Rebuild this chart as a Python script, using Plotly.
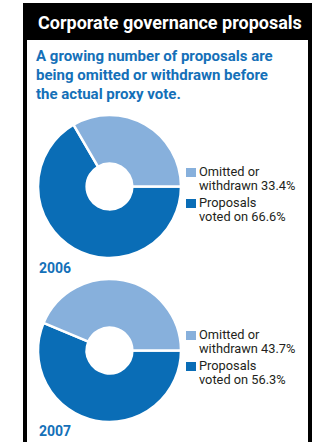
import plotly.graph_objects as go

# Share of corporate governance proposals, by year
years = ["2006", "2007"]
categories = ["Omitted or withdrawn", "Proposals voted on"]
category_lines = [["Omitted or", "withdrawn"], ["Proposals", "voted on"]]
share_2006 = [33.4, 66.6]
share_2007 = [43.7, 56.3]
shares = [share_2006, share_2007]

title_text = "Corporate governance proposals"
subtitle_lines = [
    "A growing number of proposals are",
    "being omitted or withdrawn before",
    "the actual proxy vote.",
]

W, H = 320, 442
FONT = "Roboto"
LIGHT = "#87b0dc"
DARK = "#0a6db6"
BLUE_TEXT = "#1470b8"
INK = "#231f20"
slice_colors = [LIGHT, DARK]


def px(x):
    return x / W


def py(y):
    return 1 - y / H


fig = go.Figure()

# donut for each year; the "voted" slice runs clockwise from 3 o'clock,
# leaving the "omitted" slice in the upper part of the ring
pie_tops = [115, 279]
pie_left, pie_size = 38, 143
for yr, vals, top in zip(years, shares, pie_tops):
    fig.add_trace(go.Pie(
        labels=categories[::-1],
        values=vals[::-1],
        hole=0.32,
        sort=False,
        direction="clockwise",
        rotation=90,
        textinfo="none",
        hoverinfo="label+percent",
        marker=dict(colors=slice_colors[::-1], line=dict(color="white", width=2.5)),
        domain=dict(x=[px(pie_left), px(pie_left + pie_size)],
                    y=[py(top + pie_size), py(top)]),
        showlegend=False,
        name=yr,
    ))

shapes = [
    # black frame and title bar
    dict(type="rect", xref="paper", yref="paper", layer="below",
         x0=px(23), x1=px(312), y0=py(445), y1=py(3),
         fillcolor="black", line=dict(width=0)),
    dict(type="rect", xref="paper", yref="paper", layer="below",
         x0=px(27), x1=px(308), y0=py(445), y1=py(40),
         fillcolor="white", line=dict(width=0)),
]

annotations = [
    dict(text="<b>" + title_text + "</b>", x=px(169.5), y=py(22),
         xref="paper", yref="paper", xanchor="center", yanchor="middle",
         showarrow=False, font=dict(family=FONT, size=18, color="white")),
]
for i, line in enumerate(subtitle_lines):
    annotations.append(dict(
        text="<b>" + line + "</b>", x=px(34), y=py(56.5 + i * 18.5),
        xref="paper", yref="paper", xanchor="left", yanchor="middle",
        showarrow=False, font=dict(family=FONT, size=15, color=BLUE_TEXT)))

# legend blocks and year labels beside each donut
legend_offsets = [0, 163]
year_label_y = [268, 431]
for yr, vals, off, yl in zip(years, shares, legend_offsets, year_label_y):
    for j, (lines, v, col) in enumerate(zip(category_lines, vals, slice_colors)):
        base = 171.5 + off + j * 31
        shapes.append(dict(type="rect", xref="paper", yref="paper",
                           x0=px(186), x1=px(196), y0=py(base + 5.5), y1=py(base - 3.5),
                           fillcolor=col, line=dict(width=0)))
        texts = [lines[0], f"{lines[1]} {v}%"]
        for k, t in enumerate(texts):
            annotations.append(dict(
                text=t, x=px(197), y=py(base + k * 14),
                xref="paper", yref="paper", xanchor="left", yanchor="middle",
                showarrow=False, font=dict(family=FONT, size=12.8, color=INK)))
    annotations.append(dict(
        text="<b>" + yr + "</b>", x=px(37), y=py(yl),
        xref="paper", yref="paper", xanchor="left", yanchor="middle",
        showarrow=False, font=dict(family=FONT, size=14, color=BLUE_TEXT)))

fig.update_layout(
    width=W, height=H,
    margin=dict(l=0, r=0, t=0, b=0),
    paper_bgcolor="white",
    plot_bgcolor="white",
    shapes=shapes,
    annotations=annotations,
)

fig.write_html("out.html")
